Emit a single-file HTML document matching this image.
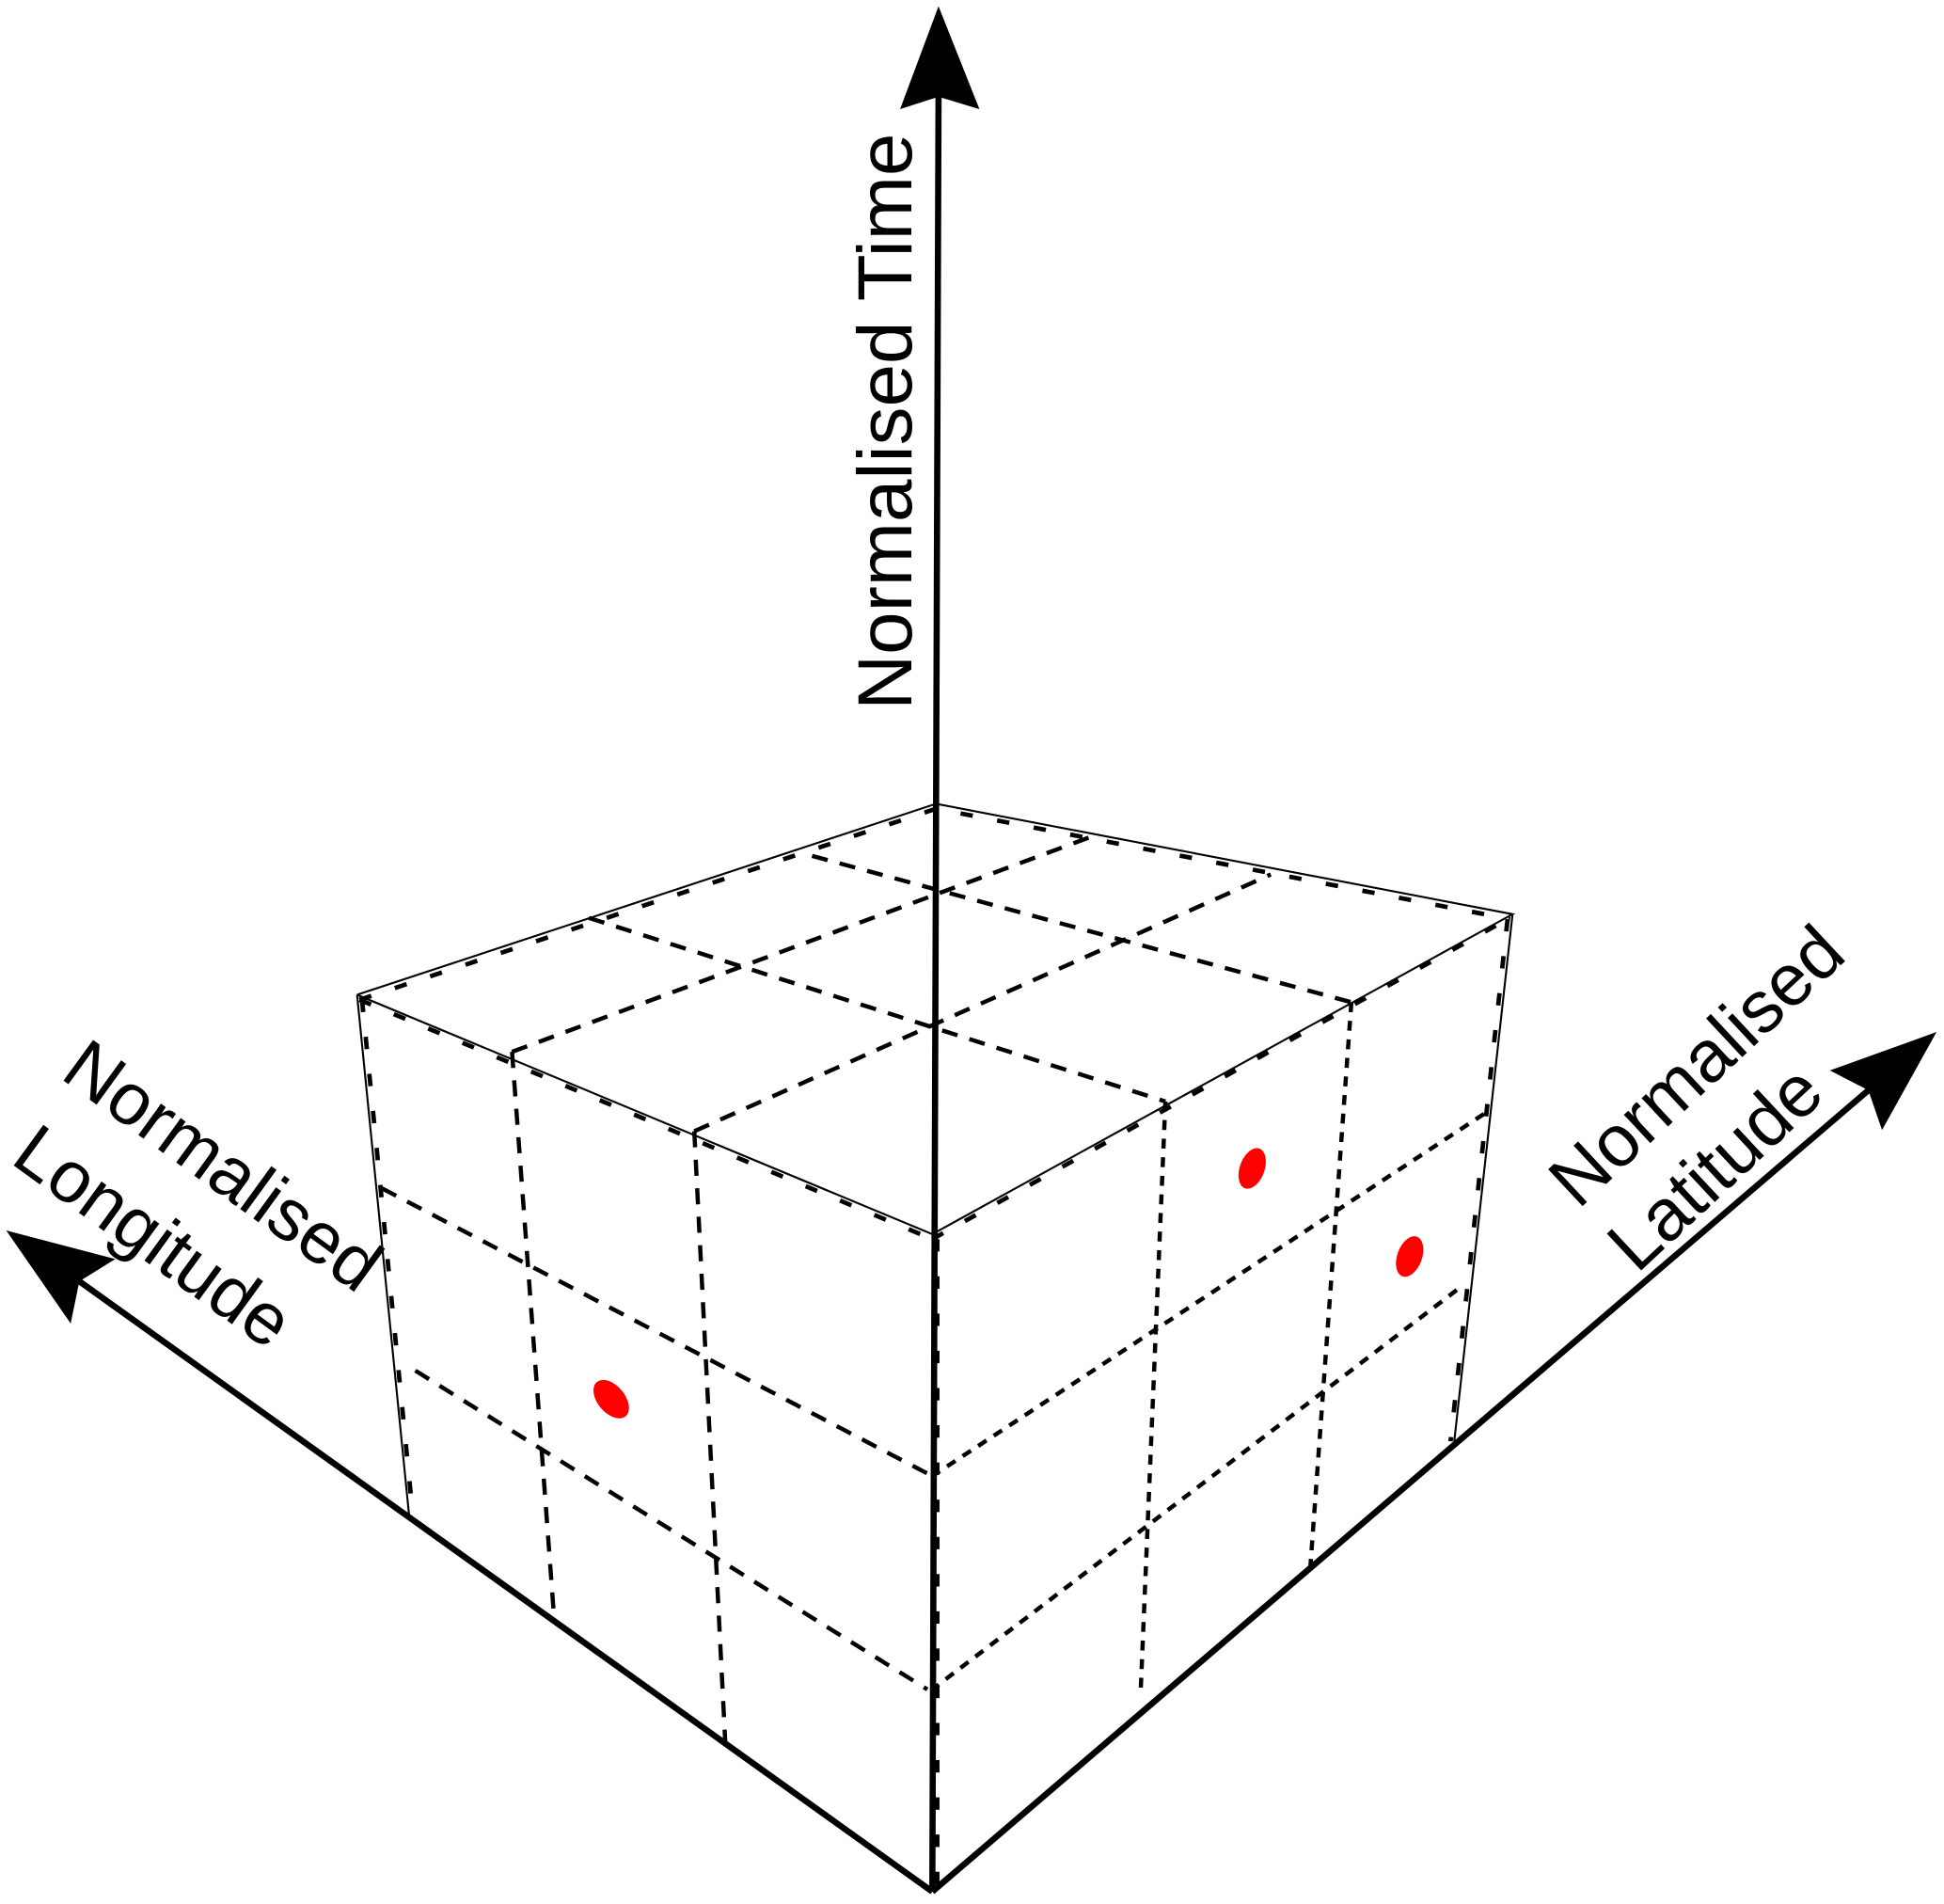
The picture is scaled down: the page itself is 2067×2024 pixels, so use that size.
<!DOCTYPE html>
<html><head><meta charset="utf-8"><style>html,body{margin:0;padding:0;background:#fff}svg{display:block}</style></head>
<body>
<svg width="2067" height="2024" viewBox="0 0 1568 1535" preserveAspectRatio="none" xmlns="http://www.w3.org/2000/svg">
<g fill="none" stroke="#000">
  <g stroke-width="1.6">
    <polyline points="288,802 755,648 1220,737 752,995 288,802"/>
    <line x1="288" y1="802" x2="330" y2="1222"/>
    <line x1="1220" y1="737" x2="1173" y2="1162"/>
  </g>
  <g stroke-width="3.6" stroke-dasharray="10 20">
    <polyline points="290,806 755,652 1218,741"/>
    <line x1="290" y1="806" x2="752" y2="999"/>
    <line x1="752" y1="999" x2="1216" y2="741"/>
    <line x1="292" y1="806" x2="333" y2="1222"/>
    <line x1="1216" y1="741" x2="1170" y2="1162"/>
    <line x1="756" y1="999" x2="756" y2="1525"/>
  </g>
  <g stroke-width="3.4" stroke-dasharray="13 10">
    <line x1="413" y1="848" x2="447" y2="1305"/>
    <line x1="560" y1="912" x2="585" y2="1405"/>
    <line x1="308" y1="958" x2="752" y2="1190"/>
    <line x1="335" y1="1105" x2="748" y2="1362"/>
  </g>
  <g stroke-width="3.4" stroke-dasharray="8 7">
    <line x1="940" y1="888" x2="920" y2="1365"/>
    <line x1="1090" y1="808" x2="1057" y2="1262"/>
    <line x1="1197" y1="898" x2="752" y2="1190"/>
    <line x1="1175" y1="1040" x2="752" y2="1362"/>
  </g>
  <g stroke-width="3.4" stroke-dasharray="13 10">
    <line x1="475" y1="740" x2="940" y2="888"/>
    <line x1="655" y1="690" x2="1090" y2="808"/>
    <line x1="413" y1="848" x2="887" y2="672"/>
    <line x1="560" y1="912" x2="1025" y2="705"/>
  </g>
  <g stroke-width="5">
    <line x1="752" y1="1525" x2="757" y2="78"/>
    <line x1="752" y1="1525" x2="64" y2="1033"/>
    <line x1="752" y1="1525" x2="1507" y2="879"/>
  </g>
</g>
<g fill="#000">
  <polygon points="757,5 790,88 757,78 726,88"/>
  <polygon points="5,992 93,1015 64,1033 57,1067"/>
  <polygon points="1562,832 1518,911 1507,879 1476,863"/>
</g>
<g fill="#ff0000">
  <ellipse cx="1010" cy="942" rx="10" ry="17" transform="rotate(20 1010 942)"/>
  <ellipse cx="1137" cy="1013" rx="10" ry="17" transform="rotate(20 1137 1013)"/>
  <ellipse cx="493" cy="1128" rx="11" ry="18" transform="rotate(-40 493 1128)"/>
</g>
<g font-family="Liberation Sans, Arial, sans-serif" font-size="62" fill="#000" text-anchor="middle">
  <text x="0" y="0" transform="translate(735,340) rotate(-90)">Normalised Time</text>
  <text x="0" y="0" font-size="59" transform="translate(168,956) rotate(36)">Normalised</text>
  <text x="0" y="0" font-size="59" transform="translate(112,1013) rotate(36)">Longitude</text>
  <text x="0" y="0" font-size="59" transform="translate(1382,874) rotate(-43)">Normalised</text>
  <text x="0" y="0" font-size="59" transform="translate(1397,956) rotate(-43)">Latitude</text>
</g>
</svg>
</body></html>
